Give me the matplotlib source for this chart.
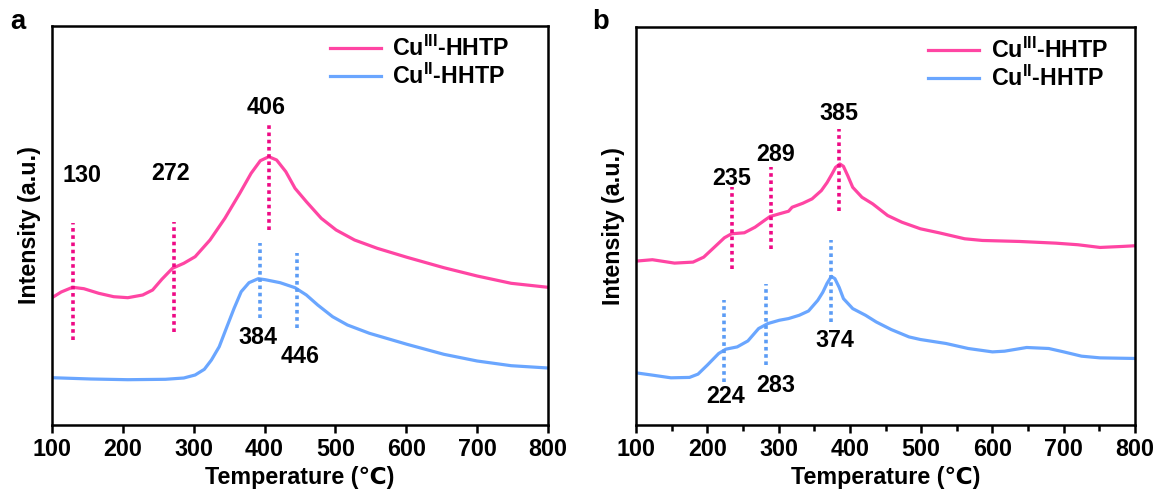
import matplotlib
matplotlib.use("Agg")
import matplotlib.pyplot as plt
from matplotlib import font_manager
import numpy as np

try:
    font_manager.findfont(font_manager.FontProperties(family='Liberation Sans Narrow', weight='bold'),
                          fallback_to_default=False)
    FAM = 'Liberation Sans Narrow'
    SC = 1.0
except Exception:
    FAM = 'Liberation Sans'
    SC = 0.88
plt.rcParams['font.family'] = [FAM, 'DejaVu Sans']
plt.rcParams['font.weight'] = 'bold'
plt.rcParams['mathtext.fontset'] = 'custom'
plt.rcParams['mathtext.bf'] = FAM + ':bold'
plt.rcParams['mathtext.rm'] = FAM + ':bold'

FS = 19 * SC

# ---------------- Panel a data ----------------
a_cu3_T = [100, 113, 129, 145, 166, 187, 207, 228, 242, 255, 270, 286, 302, 323, 344,
           365, 381, 394, 406, 417, 430, 443, 459, 480, 501, 527, 559, 601, 653, 700,
           748, 800]
a_cu3_I = [127.3, 133, 137.7, 136.3, 131.7, 128.3, 127.3, 130, 135, 145.7, 156.7, 161.7,
           168.3, 185, 206.7, 231.7, 251.7, 264.3, 268.3, 265, 253.3, 236.7, 223.3,
           206.7, 195, 185, 176.7, 167.7, 157.3, 149, 141.7, 137.7]
a_cu2_T = [100, 155, 207, 260, 286, 302, 315, 325, 336, 346, 357, 367, 378, 391, 401,
           422, 443, 459, 475, 496, 517, 548, 601, 653, 700, 748, 800]
a_cu2_I = [47.3, 46, 45.3, 45.7, 47, 50, 55.7, 65, 78.3, 96.7, 116.7, 133.3, 142.3,
           146.3, 145.3, 142.3, 137.3, 130, 120, 108.3, 100, 91.7, 80.7, 70.7, 64, 59.3, 57]

a_cu3_peaks = [130, 272, 406]
a_cu3_peak_lo = [85, 93.3, 195]
a_cu3_peak_hi = [201.7, 203.3, 303.3]
a_cu3_labels = ["130", "272", "406"]
a_cu3_label_xy = [(142, 250), (268, 251.7), (402.5, 317.7)]

a_cu2_peaks = [394, 446]
a_cu2_peak_lo = [106.7, 96.7]
a_cu2_peak_hi = [181.7, 172.3]
a_cu2_labels = ["384", "446"]
a_cu2_label_xy = [(390, 87.7), (450, 68.3)]

# ---------------- Panel b data ----------------
b_cu3_T = [100, 123, 154, 180, 195, 210, 224, 234, 252, 267, 280, 288, 301, 314, 319,
           334, 347, 360, 368, 375, 380, 386, 391, 397, 404, 417, 432, 453, 473, 499,
           525, 561, 586, 638, 689, 720, 751, 782, 800]
b_cu3_I = [164.3, 165.7, 162.3, 163.3, 168.3, 178.3, 187.7, 191.7, 192.7, 198.3, 205,
           209, 211.7, 214.3, 218.3, 222.3, 226.7, 235, 243, 251.7, 258.3, 261.7,
           259.3, 250, 238.3, 228.3, 221.7, 210, 203.3, 196.7, 192.7, 186.7, 185,
           184, 182.3, 180.7, 178, 179, 179.7]
b_cu2_T = [100, 123, 149, 175, 187, 200, 216, 226, 242, 257, 272, 285, 301, 314, 329,
           342, 355, 362, 368, 374, 379, 385, 391, 404, 422, 437, 458, 483, 499, 535,
           566, 600, 617, 648, 679, 700, 725, 751, 800]
b_cu2_I = [52.3, 50, 47.3, 47.7, 51, 60, 71.7, 76, 78.3, 84.3, 96.7, 101.7, 105, 106.7,
           110, 114.3, 125, 133, 142, 149, 146.7, 138, 126.7, 116.7, 110, 103.3, 95.7,
           88.3, 85.7, 81.7, 76.7, 73.3, 74, 77.7, 76.7, 73.3, 69, 67.3, 66.7]

b_cu3_peaks = [235, 289, 385]
b_cu3_peak_lo = [156.7, 176.7, 215]
b_cu3_peak_hi = [238.3, 258.3, 296.7]
b_cu3_labels = ["235", "289", "385"]
b_cu3_label_xy = [(234, 247.3), (296, 271), (385, 312.3)]

b_cu2_peaks = [224, 283, 374]
b_cu2_peak_lo = [43.3, 60, 103.3]
b_cu2_peak_hi = [125, 141.7, 185.7]
b_cu2_labels = ["224", "283", "374"]
b_cu2_label_xy = [(226, 28.3), (296, 40), (379, 84.3)]

PINK = '#FF45A3'
PINK_DOT = '#EE0A85'
BLUE = '#6AA6FF'
BLUE_DOT = '#5C9CF5'

fig = plt.figure(figsize=(11.55, 4.9), dpi=100)
ax_a = fig.add_axes([52/1155, 1-425/490, 496/1155, 399/490])
ax_b = fig.add_axes([636/1155, 1-425/490, 499/1155, 398/490])


def draw(ax, c3T, c3I, c2T, c2I, p3, p3lo, p3hi, l3, l3xy, p2, p2lo, p2hi, l2, l2xy,
         minor, leg_anchor):
    ax.plot(c3T, c3I, color=PINK, lw=2.3, label='Cu$^{\\mathbf{III}}$-HHTP',
            solid_joinstyle='round')
    ax.plot(c2T, c2I, color=BLUE, lw=2.3, label='Cu$^{\\mathbf{II}}$-HHTP',
            solid_joinstyle='round')
    for x, lo, hi in zip(p3, p3lo, p3hi):
        ax.vlines(x, lo, hi, colors=PINK_DOT, linestyles=(0, (1, 1)), lw=2.6)
    for x, lo, hi in zip(p2, p2lo, p2hi):
        ax.vlines(x, lo, hi, colors=BLUE_DOT, linestyles=(0, (1, 1)), lw=2.6)
    for t, (x, y) in zip(l3, l3xy):
        ax.text(x, y, t, ha='center', va='center', fontsize=FS, fontweight='bold')
    for t, (x, y) in zip(l2, l2xy):
        ax.text(x, y, t, ha='center', va='center', fontsize=FS, fontweight='bold')
    ax.set_xlim(100, 800)
    ax.set_ylim(0, 399)
    ax.set_xticks(np.arange(100, 801, 100))
    if minor:
        ax.set_xticks(np.arange(150, 800, 100), minor=True)
        ax.tick_params(axis='x', which='minor', direction='out', length=4, width=1.8)
    ax.set_yticks([])
    ax.tick_params(axis='x', which='major', direction='out', length=6, width=1.8,
                   labelsize=FS, pad=3)
    for lab in ax.get_xticklabels():
        lab.set_fontweight('bold')
    for s in ax.spines.values():
        s.set_linewidth(1.8)
    ax.set_xlabel('Temperature (℃)', fontsize=FS, fontweight='bold', labelpad=4)
    ax.set_ylabel('Intensity (a.u.)', fontsize=FS, fontweight='bold', labelpad=8)
    leg = ax.legend(loc='upper left', frameon=False, fontsize=FS, handlelength=2.2,
                    handletextpad=0.5, labelspacing=0.1, borderaxespad=0.0,
                    borderpad=0.0, bbox_to_anchor=leg_anchor)
    for t in leg.get_texts():
        t.set_fontweight('bold')


draw(ax_a, a_cu3_T, a_cu3_I, a_cu2_T, a_cu2_I,
     a_cu3_peaks, a_cu3_peak_lo, a_cu3_peak_hi, a_cu3_labels, a_cu3_label_xy,
     a_cu2_peaks, a_cu2_peak_lo, a_cu2_peak_hi, a_cu2_labels, a_cu2_label_xy, False,
     (0.56, 0.975))
draw(ax_b, b_cu3_T, b_cu3_I, b_cu2_T, b_cu2_I,
     b_cu3_peaks, b_cu3_peak_lo, b_cu3_peak_hi, b_cu3_labels, b_cu3_label_xy,
     b_cu2_peaks, b_cu2_peak_lo, b_cu2_peak_hi, b_cu2_labels, b_cu2_label_xy, True,
     (0.585, 0.972))

fig.text(10/1155, 1-22/490, 'a', fontsize=FS + 3, fontweight='bold', va='center')
fig.text(592/1155, 1-22/490, 'b', fontsize=FS + 3, fontweight='bold', va='center')

fig.savefig('out.png', dpi=100)
